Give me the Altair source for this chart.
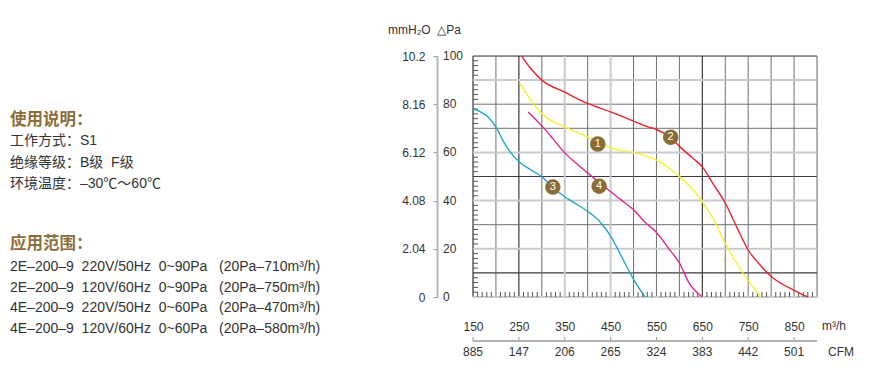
import altair as alt
import pandas as pd

W, H = 344, 241

# ---- data ----
q_ticks = [150, 250, 350, 450, 550, 650, 750, 850]
cfm_labels = ["885", "147", "206", "265", "324", "383", "442", "501"]
pa_ticks = [0, 20, 40, 60, 80, 100]
mm_labels = ["0", "2.04", "4.08", "6.12", "8.16", "10.2"]

c1_q = [252, 275, 300, 350, 400, 425, 450, 500, 550, 600, 625, 650, 675, 700, 725, 750, 778]
c1_p = [88.6, 82, 76, 70.6, 66.3, 63.8, 61.8, 60, 56.8, 50, 45.5, 39.5, 32, 22.3, 13.8, 6.8, 0]
c2_q = [256, 275, 300, 350, 400, 450, 500, 525, 550, 580, 600, 630, 650, 675, 700, 725, 750, 775, 800, 825, 850, 880]
c2_p = [100, 95, 90, 85, 80.3, 76.8, 73, 71, 69.5, 66.3, 62.5, 57.5, 54, 46.5, 39, 29, 19.5, 13.5, 8.5, 5.3, 2.8, 0]
c3_q = [152, 165, 183, 202, 215, 231, 251, 275, 302, 325, 350, 375, 401, 430, 451, 474, 501, 525]
c3_p = [78, 77, 74.7, 69.9, 65, 60.2, 56, 52.9, 49.6, 45.3, 41.6, 38.6, 35.4, 30.5, 25, 16.7, 7, 0]
c4_q = [270, 285, 302, 325, 350, 375, 401, 451, 475, 501, 525, 550, 575, 601, 620, 650]
c4_p = [76.8, 74, 70.6, 65.5, 59.8, 55.5, 51.3, 43.6, 40, 36, 31, 26.8, 20.5, 13.8, 6.2, 0]

marker_q = [422, 581, 324, 425]
marker_p = [63.5, 66.3, 45.6, 46]
marker_lbl = ["1", "2", "3", "4"]

series_names = ["1", "2", "3", "4"]
series_colors = ["#f7f032", "#e8222b", "#1ba6c8", "#e2268f"]

NB = "\u00a0"
left_title1 = "使用说明："
left_lines1 = ["工作方式：S1", f"绝缘等级：B级{NB}{NB}F级", "环境温度：–30℃～60℃"]
left_title2 = "应用范围："
left_lines2 = [
    f"2E–200–9{NB}{NB}220V/50Hz{NB}{NB}0~90Pa{NB}{NB}{NB}(20Pa–710m³/h)",
    f"2E–200–9{NB}{NB}120V/60Hz{NB}{NB}0~90Pa{NB}{NB}{NB}(20Pa–750m³/h)",
    f"4E–200–9{NB}{NB}220V/50Hz{NB}{NB}0~60Pa{NB}{NB}{NB}(20Pa–470m³/h)",
    f"4E–200–9{NB}{NB}120V/60Hz{NB}{NB}0~60Pa{NB}{NB}{NB}(20Pa–580m³/h)",
]

# grid definitions
v_grid = list(range(150, 901, 50))
v_dark = [150, 250, 650]
v_light = [350, 450]
h_grid = list(range(0, 101, 10))
h_dark = [100, 50, 10]
h_light = [0, 20, 40, 60, 90]

# ---- frames ----
curves = pd.concat([
    pd.DataFrame({"q": q, "p": p, "s": s})
    for q, p, s in [(c1_q, c1_p, "1"), (c2_q, c2_p, "2"), (c3_q, c3_p, "3"), (c4_q, c4_p, "4")]
])
markers = pd.DataFrame({"q": marker_q, "p": marker_p, "t": marker_lbl})

def kind(v, dark, light):
    return "dark" if v in dark else ("light" if v in light else "gray")

vg = pd.DataFrame({"q": v_grid, "k": [kind(v, v_dark, v_light) for v in v_grid]})
hg = pd.DataFrame({"p": h_grid, "k": [kind(v, h_dark, h_light) for v in h_grid]})
minor_p = pd.DataFrame({"p": [v for v in range(2, 100, 2) if v % 10 != 0]})
minor_q = pd.DataFrame({"q": [v for v in range(160, 900, 10) if v % 50 != 0]})
cfm = pd.DataFrame({"q": q_ticks, "t": cfm_labels})
pa = pd.DataFrame({"p": pa_ticks, "t": [str(v) for v in pa_ticks]})

xs = alt.Scale(domain=[150, 900], nice=False, zero=False)
ys = alt.Scale(domain=[0, 100], nice=False, zero=False)

label_expr = " : ".join(f"datum.value == {p} ? '{m}'" for p, m in zip(pa_ticks, mm_labels)) + " : ''"

FONT = "Liberation Sans"
MIX = "Liberation Sans, Noto Sans CJK SC"
CJK = "Noto Sans CJK SC"

xaxis = alt.Axis(values=q_ticks, format="d", domain=False, ticks=False, tickSize=0,
                 labelPadding=24, labelFontSize=12, labelColor="#333", labelFont=FONT,
                 grid=False, title=None, labelFlush=False, labelOverlap=False)
yaxis = alt.Axis(values=pa_ticks, orient="left", offset=36, domainColor="#b8b8b8", domainWidth=2,
                 tickColor="#999", tickSize=4, labelPadding=8, labelExpr=label_expr,
                 labelFontSize=12, labelColor="#333", labelFont=FONT, grid=False,
                 title=None, labelFlush=False, labelOverlap=False)

X = lambda f: alt.X(f, type="quantitative", scale=xs, axis=xaxis)
Y = lambda f: alt.Y(f, type="quantitative", scale=ys, axis=yaxis)

grid_style = {"dark": ("#3a3a3a", 1.2), "gray": ("#707070", 1), "light": ("#cacaca", 2)}

layers = []
for k, (col, wd) in grid_style.items():
    layers.append(alt.Chart(vg[vg.k == k]).mark_rule(color=col, strokeWidth=wd).encode(x=X("q")))
    layers.append(alt.Chart(hg[hg.k == k]).mark_rule(color=col, strokeWidth=wd).encode(y=Y("p")))
layers.append(alt.Chart(minor_p).mark_rule(color="#555", strokeWidth=1).encode(
    y=Y("p"), x=alt.value(0), x2=alt.value(5)))
layers.append(alt.Chart(minor_q).mark_rule(color="#555", strokeWidth=1).encode(
    x=X("q"), y=alt.value(H - 5), y2=alt.value(H)))
layers.append(alt.Chart(curves).mark_line(interpolate="monotone", strokeWidth=1.4).encode(
    x=X("q"), y=Y("p"),
    color=alt.Color("s:N", scale=alt.Scale(domain=series_names, range=series_colors), legend=None)))
layers.append(alt.Chart(markers).mark_circle(size=240, color="#8c6c36", opacity=1).encode(
    x=X("q"), y=Y("p")))
layers.append(alt.Chart(markers).mark_text(color="white", fontSize=11, font=FONT, baseline="middle").encode(
    x=X("q"), y=Y("p"), text="t:N"))
# Pa labels (right of axis line)
layers.append(alt.Chart(pa).mark_text(align="left", baseline="middle", fontSize=12, font=FONT, color="#333").encode(
    y=Y("p"), x=alt.value(-30), text="t:N"))
# CFM row
layers.append(alt.Chart(cfm).mark_text(baseline="middle", fontSize=12, font=FONT, color="#333").encode(
    x=X("q"), y=alt.value(352 - 56), text="t:N"))
layers.append(alt.Chart(cfm).mark_rule(color="#999").encode(
    x=X("q"), y=alt.value(337 - 56), y2=alt.value(341 - 56)))
layers.append(alt.Chart(cfm).mark_rule(color="#b0b0b0", strokeWidth=1).encode(
    x=alt.value(0), x2=alt.value(W), y=alt.value(341 - 56)))

def txt(s, x, y, size=12, color="#333", weight="normal", font=FONT):
    return alt.Chart(pd.DataFrame({"t": [s]})).mark_text(
        align="left", baseline="middle", fontSize=size, color=color, fontWeight=weight, font=font
    ).encode(x=alt.value(x), y=alt.value(y), text="t:N")

layers.append(txt(f"mmH₂O{NB}{NB}△Pa", 388 - 473, 30 - 56))
layers.append(txt("m³/h", 822 - 473, 326 - 56))
layers.append(txt("CFM", 828 - 473, 352 - 56))

BROWN = "#8d6c37"
lx = 10 - 473
layers.append(txt(left_title1, lx, 119.5 - 56, size=16.5, color=BROWN, weight="bold", font=CJK))
for i, s in enumerate(left_lines1):
    layers.append(txt(s, lx, [141, 162.5, 184][i] - 56, size=14, color="#333", font=MIX))
layers.append(txt(left_title2, lx, 243.5 - 56, size=16.5, color=BROWN, weight="bold", font=CJK))
for i, s in enumerate(left_lines2):
    layers.append(txt(s, lx, [266.5, 287.7, 308, 329][i] - 56, size=14, color="#333", font=MIX))

chart = alt.layer(*layers).properties(
    width=W, height=H,
    autosize=alt.AutoSizeParams(type="none"),
    padding={"left": 465, "top": 48, "right": 40, "bottom": 78},
).configure_view(stroke=None).configure(background="white")

chart.save("out.html", embed_options={"renderer": "svg", "actions": False})
